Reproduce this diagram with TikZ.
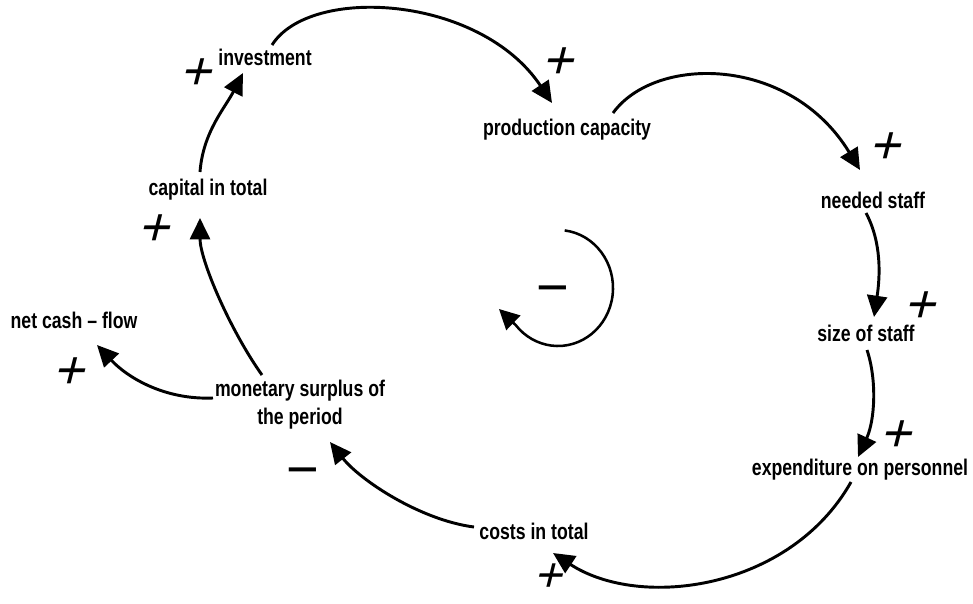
\documentclass[tikz,border=0pt]{standalone}
\usepackage{fontspec}
\newfontfamily\lblfont{Liberation Sans}[FakeStretch=0.78]
\newfontfamily\signfont{Liberation Sans}
\usetikzlibrary{arrows.meta}
\begin{document}
\begin{tikzpicture}[x=0.75pt,y=-0.75pt,
  lbl/.style={font=\lblfont\bfseries\fontsize{17}{21}\selectfont, inner sep=0pt, align=center},
  link/.style={line width=2.2pt, -{Triangle[length=16pt,width=15pt]}},
  pol/.style={font=\signfont\fontsize{40}{40}\selectfont, inner sep=0pt, xslant=0.25},
  neg/.style={font=\signfont\fontsize{42}{42}\selectfont, inner sep=0pt}]
\useasboundingbox (0,0) rectangle (973,603);

% variables
\node[lbl] (inv)   at (265,57)  {investment};
\node[lbl] (prod)  at (567,130) {production capacity};
\node[lbl] (need)  at (873,200) {needed staff};
\node[lbl] (size)  at (866,333) {size of staff};
\node[lbl] (exp)   at (860,470) {expenditure on personnel};
\node[lbl] (costs) at (534,531) {costs in total};
\node[lbl] (mon)   at (300,405) {monetary surplus of\\the period};
\node[lbl] (net)   at (74,320)  {net cash – flow};
\node[lbl] (cap)   at (208,190) {capital in total};

% causal links
\draw[link] ([shift={(-8,-18)}]cap.center) .. controls +(3,-40) and +(-18,35) .. ([shift={(-22,16)}]inv.center);
\draw[link] ([shift={(7,-12)}]inv.center) .. controls +(38,-60) and +(-72,-108) .. ([shift={(-15,-27)}]prod.center);
\draw[link] ([shift={(46,-17)}]prod.center) .. controls +(42,-58) and +(-70,-115) .. ([shift={(-13,-30)}]need.center);
\draw[link] ([shift={(-7,13)}]need.center) .. controls +(16,30) and +(6,-40) .. ([shift={(8,-16)}]size.center);
\draw[link] ([shift={(1,17)}]size.center) .. controls +(10,30) and +(17,-37) .. ([shift={(-2,-13)}]exp.center);
\draw[link] ([shift={(-9,12)}]exp.center) .. controls +(-61,108) and +(87,57) .. ([shift={(19,22)}]costs.center);
\draw[link] ([shift={(-60,-4)}]costs.center) .. controls +(-54,-7) and +(30,38) .. ([shift={(30,37)}]mon.center);
\draw[link] ([shift={(-38,-30)}]mon.center) .. controls +(-32,-45) and +(0,42) .. ([shift={(-8,28)}]cap.center);
\draw[link] ([shift={(-87,-7)}]mon.center) .. controls +(-48,2) and +(31,33) .. ([shift={(23,25)}]net.center);

% loop symbol
\coordinate (loopc) at (558,288);
\coordinate (looptip) at (499,309);
\draw[line width=1.9pt, -{Triangle[length=15pt,width=15pt]}]
  (loopc) ++(-83:55 and 58) arc[start angle=-83, end angle=140, x radius=55, y radius=58] -- (looptip);
\node[neg] (loopsign) at (553,296) {−};

% polarities
\node[pol] (p1) at (199,74)  {+};
\node[pol] (p2) at (157,230) {+};
\node[pol] (p3) at (561,63)  {+};
\node[pol] (p4) at (888,148) {+};
\node[pol] (p5) at (923,307) {+};
\node[pol] (p6) at (899,436) {+};
\node[pol, font=\signfont\fontsize{36}{36}\selectfont] (p7) at (551,578) {+};
\node[pol] (p8) at (72,373)  {+};
\node[neg] (m1) at (303,478) {−};
\end{tikzpicture}
\end{document}
